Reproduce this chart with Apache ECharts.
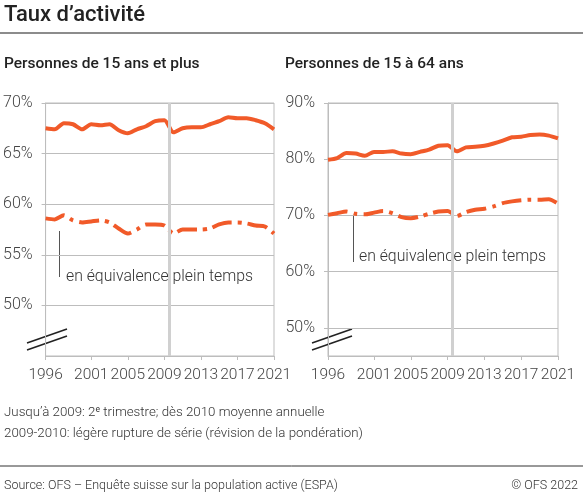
<!DOCTYPE html>
<html>
<head>
<meta charset="utf-8">
<script src="https://cdn.jsdelivr.net/npm/echarts@6/dist/echarts.min.js"></script>
<style>
  html, body { margin: 0; padding: 0; background: #fff; }
  #chart { width: 583px; height: 493px; }
</style>
</head>
<body>
<div id="chart"></div>
<script>
const years = [1996, 1997, 1998, 1999, 2000, 2001, 2002, 2003, 2004, 2005, 2006, 2007, 2008,
    2009, 2010, 2011, 2012, 2013, 2014, 2015, 2016, 2017, 2018, 2019, 2020, 2021]
const yearTicks = [1996, 2001, 2005, 2009, 2013, 2017, 2021]

// 15 ans et plus
const plus15 = [67.5, 67.4, 68.0, 67.9, 67.4, 67.9, 67.8, 67.9, 67.3, 67.0, 67.4, 67.7, 68.2,
    68.3, 67.1, 67.5, 67.6, 67.6, 67.9, 68.2, 68.6, 68.5, 68.5, 68.3, 68.0, 67.4]
const plus15Ept = [58.6, 58.5, 58.9, 58.4, 58.2, 58.3, 58.4, 58.2, 57.6, 57.1, 57.5, 58.0, 58.0,
    57.9, 57.1, 57.5, 57.5, 57.5, 57.6, 58.0, 58.2, 58.2, 58.1, 57.9, 57.8, 57.1]

// 15 à 64 ans
const age1564 = [79.9, 80.2, 81.1, 81.0, 80.6, 81.3, 81.3, 81.4, 81.0, 80.9, 81.3, 81.7, 82.4,
    82.5, 81.4, 82.1, 82.2, 82.4, 82.8, 83.3, 83.9, 84.0, 84.3, 84.4, 84.2, 83.7]
const age1564Ept = [70.1, 70.4, 70.7, 70.3, 70.2, 70.5, 70.8, 70.4, 69.7, 69.5, 69.8, 70.3, 70.7,
    70.8, 69.9, 70.6, 71.0, 71.2, 71.6, 72.2, 72.5, 72.7, 72.8, 72.8, 72.9, 72.1]

const leftTicks = [50, 55, 60, 65, 70]
const rightTicks = [50, 60, 70, 80, 90]
const rupture = 2009.5

const orange = '#f15a29'
const gridGray = '#bdbdbd'
const font = 'Roboto'

const myChart = echarts.init(document.getElementById('chart'))

function pairs(vals) {
    return years.map((y, i) => [y, vals[i]])
}

function xAxisFor(idx) {
    return {
        type: 'value',
        gridIndex: idx,
        min: 1996,
        max: 2021,
        axisLine: { lineStyle: { color: gridGray, width: 1 } },
        axisTick: { customValues: yearTicks, length: 4, lineStyle: { color: gridGray } },
        axisLabel: {
            customValues: yearTicks,
            formatter: v => String(v),
            color: '#444',
            fontFamily: font,
            fontWeight: 300,
            fontSize: 15.5,
            margin: 11,
        },
        splitLine: { show: false },
    }
}

function yAxisFor(idx, min, max, ticks) {
    return {
        type: 'value',
        gridIndex: idx,
        min: min,
        max: max,
        axisLine: { show: true, lineStyle: { color: gridGray } },
        axisTick: { show: true, customValues: ticks, length: 4, lineStyle: { color: gridGray } },
        axisLabel: {
            customValues: ticks,
            formatter: v => v + '%',
            color: '#444',
            fontFamily: font,
            fontWeight: 300,
            fontSize: 16,
            margin: 13,
        },
        splitLine: { show: true, lineStyle: { color: gridGray, width: 1 } },
    }
}

function ruptureLine() {
    return {
        silent: true,
        symbol: 'none',
        label: { show: false },
        lineStyle: { color: '#d0d0d0', width: 3, type: 'solid' },
        data: [{ xAxis: rupture }],
    }
}

function lineSeries(idx, vals, dashed, withMark) {
    const s = {
        type: 'line',
        xAxisIndex: idx,
        yAxisIndex: idx,
        data: pairs(vals),
        showSymbol: false,
        smooth: 0.25,
        z: 3,
        lineStyle: {
            color: orange,
            width: 4,
            type: dashed ? [20, 6, 4, 6] : 'solid',
            cap: 'butt',
        },
    }
    if (withMark) s.markLine = ruptureLine()
    return s
}

function txt(x, y, text, size, weight, color) {
    return {
        type: 'text',
        x: x,
        y: y,
        style: {
            text: text,
            fontFamily: font,
            fontSize: size,
            fontWeight: weight,
            fill: color,
            textVerticalAlign: 'middle',
        },
    }
}

function seg(x1, y1, x2, y2, color, width) {
    return {
        type: 'line',
        shape: { x1: x1, y1: y1, x2: x2, y2: y2 },
        style: { stroke: color, lineWidth: width },
    }
}

const option = {
    animation: false,
    grid: [
        { left: 43, right: 309, top: 103, bottom: 137, show: true, borderColor: gridGray, borderWidth: 1 },
        { left: 328, right: 25, top: 103, bottom: 137, show: true, borderColor: gridGray, borderWidth: 1 },
    ],
    xAxis: [xAxisFor(0), xAxisFor(1)],
    yAxis: [yAxisFor(0, 45, 70, leftTicks), yAxisFor(1, 45, 90, rightTicks)],
    series: [
        lineSeries(0, plus15, false, true),
        lineSeries(0, plus15Ept, true, false),
        lineSeries(1, age1564, false, true),
        lineSeries(1, age1564Ept, true, false),
    ],
    graphic: [
        txt(4, 15, 'Taux d\u2019activité', 22, 500, '#222'),
        seg(0, 33, 583, 33, '#666', 1.5),
        txt(4, 64, 'Personnes de 15 ans et plus', 15.5, 500, '#222'),
        txt(285, 64, 'Personnes de 15 à 64 ans', 15.5, 500, '#222'),

        // annotations
        seg(59.5, 231, 59.5, 277, '#555', 1),
        txt(66, 277, 'en équivalence plein temps', 15.8, 300, '#333'),
        seg(353.5, 216, 353.5, 262, '#555', 1),
        txt(359, 257, 'en équivalence plein temps', 15.8, 300, '#333'),

        // axis break marks
        seg(27, 343, 67, 329, '#222', 1.6),
        seg(27, 350, 67, 336, '#222', 1.6),
        seg(312, 343, 352, 329, '#222', 1.6),
        seg(312, 350, 352, 336, '#222', 1.6),

        // notes
        {
            type: 'text',
            x: 4,
            y: 413,
            style: {
                text: 'Jusqu\u2019à 2009: 2{sup|e} trimestre; dès 2010 moyenne annuelle',
                fontFamily: font,
                fontSize: 13.3,
                fontWeight: 300,
                fill: '#333',
                textVerticalAlign: 'middle',
                rich: {
                    sup: { fontSize: 8.5, fontFamily: font, fill: '#333', verticalAlign: 'top', padding: [0, 0, 6, 0] },
                },
            },
        },
        txt(4, 434, '2009-2010: légère rupture de série (révision de la pondération)', 13.3, 300, '#333'),
        seg(0, 466, 583, 466, '#333', 1),
        txt(4, 486, 'Source: OFS \u2013 Enquête suisse sur la population active (ESPA)', 12.5, 300, '#333'),
        {
            type: 'text',
            right: 5,
            y: 479,
            style: {
                text: '© OFS 2022',
                fontFamily: font,
                fontSize: 12.5,
                fontWeight: 300,
                fill: '#333',
            },
        },
    ],
}

myChart.setOption(option)
</script>
</body>
</html>
